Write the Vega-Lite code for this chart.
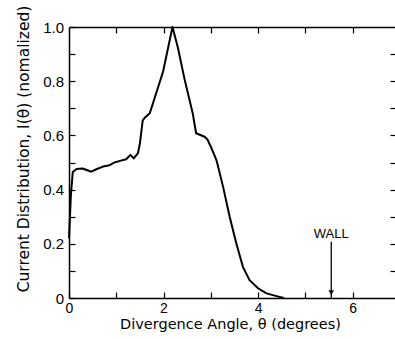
{
  "$schema": "https://vega.github.io/schema/vega-lite/v6.json",
  "autosize": "none",
  "width": 327,
  "height": 271,
  "padding": {"left": 69, "top": 27, "right": 0, "bottom": 41},
  "background": "white",
  "config": {
    "view": {"stroke": null},
    "axis": {
      "grid": false,
      "domainColor": "black",
      "domainWidth": 1.5,
      "tickColor": "black",
      "tickWidth": 1.2,
      "tickSize": -6,
      "labelColor": "black",
      "labelFont": "Liberation Sans",
      "labelFontSize": 15,
      "titleColor": "black",
      "titleFont": "DejaVu Sans",
      "titleFontWeight": "normal"
    }
  },
  "datasets": {
    "current": [
      {"theta": 0.0, "I": 0.22},
      {"theta": 0.04, "I": 0.38},
      {"theta": 0.08, "I": 0.465},
      {"theta": 0.16, "I": 0.476},
      {"theta": 0.29, "I": 0.478},
      {"theta": 0.47, "I": 0.466},
      {"theta": 0.58, "I": 0.475},
      {"theta": 0.72, "I": 0.485},
      {"theta": 0.86, "I": 0.49},
      {"theta": 0.96, "I": 0.5},
      {"theta": 1.1, "I": 0.507},
      {"theta": 1.21, "I": 0.512},
      {"theta": 1.3, "I": 0.528},
      {"theta": 1.37, "I": 0.515},
      {"theta": 1.46, "I": 0.535},
      {"theta": 1.5, "I": 0.57},
      {"theta": 1.56, "I": 0.655},
      {"theta": 1.62, "I": 0.668},
      {"theta": 1.71, "I": 0.682},
      {"theta": 1.99, "I": 0.835},
      {"theta": 2.19, "I": 1.0},
      {"theta": 2.3, "I": 0.927},
      {"theta": 2.45, "I": 0.804},
      {"theta": 2.62, "I": 0.68},
      {"theta": 2.69, "I": 0.608},
      {"theta": 2.87, "I": 0.595},
      {"theta": 2.93, "I": 0.585},
      {"theta": 3.01, "I": 0.555},
      {"theta": 3.12, "I": 0.509},
      {"theta": 3.26, "I": 0.411},
      {"theta": 3.4, "I": 0.3},
      {"theta": 3.54, "I": 0.202},
      {"theta": 3.68, "I": 0.115},
      {"theta": 3.82, "I": 0.066},
      {"theta": 4.0, "I": 0.036},
      {"theta": 4.18, "I": 0.017},
      {"theta": 4.39, "I": 0.007},
      {"theta": 4.55, "I": 0.0}
    ],
    "wall": [
      {"theta": 5.55, "top": 0.208, "bottom": 0.0, "tip": 0.02, "labelY": 0.22, "label": "WALL"}
    ]
  },
  "resolve": {"axis": {"x": "independent", "y": "independent"}},
  "layer": [
    {
      "data": {"name": "current"},
      "mark": {"type": "line", "color": "black", "strokeWidth": 2, "strokeJoin": "round"},
      "encoding": {
        "x": {
          "field": "theta", "type": "quantitative",
          "scale": {"domain": [0, 6.92], "nice": false, "zero": false},
          "axis": {
            "orient": "bottom",
            "values": [0, 1, 2, 3, 4, 5, 6],
            "labelExpr": "datum.value % 2 == 0 ? datum.label : ''",
            "labelFontSize": 14,
            "labelPadding": 9,
            "labelFlush": false,
            "title": "Divergence Angle, θ (degrees)",
            "titleFontSize": 14.5,
            "titleBaseline": "alphabetic",
            "titleAlign": "center",
            "titleX": 161,
            "titleY": 30.5
          }
        },
        "y": {
          "field": "I", "type": "quantitative",
          "scale": {"domain": [0, 1], "nice": false},
          "axis": {
            "orient": "left",
            "values": [0, 0.1, 0.2, 0.3, 0.4, 0.5, 0.6, 0.7, 0.8, 0.9, 1.0],
            "labelExpr": "round(datum.value * 10) % 2 == 0 ? (datum.value == 0 ? '0' : format(datum.value, '.1f')) : ''",
            "labelPadding": 11.5,
            "labelFlush": false,
            "title": "Current Distribution, I(θ) (nomalized)",
            "titleFontSize": 15.5,
            "titleAngle": -90,
            "titleBaseline": "alphabetic",
            "titleAlign": "center",
            "titleX": -40.5,
            "titleY": 121.5
          }
        }
      }
    },
    {
      "data": {"name": "wall"},
      "mark": {"type": "rule", "color": "black", "strokeWidth": 1.3},
      "encoding": {
        "x": {
          "field": "theta", "type": "quantitative",
          "axis": {"orient": "top", "values": [1, 2, 3, 4, 5, 6], "labels": false, "title": null}
        },
        "y": {
          "field": "top", "type": "quantitative",
          "axis": {"orient": "right", "values": [0.1, 0.2, 0.3, 0.4, 0.5, 0.6, 0.7, 0.8, 0.9], "labels": false, "title": null}
        },
        "y2": {"field": "bottom"}
      }
    },
    {
      "data": {"name": "wall"},
      "mark": {"type": "point", "shape": "triangle-down", "filled": true, "color": "black", "size": 30, "opacity": 1},
      "encoding": {
        "x": {"field": "theta", "type": "quantitative", "axis": null},
        "y": {"field": "tip", "type": "quantitative", "axis": null}
      }
    },
    {
      "data": {"name": "wall"},
      "mark": {"type": "text", "font": "Liberation Sans", "fontSize": 13, "color": "black", "align": "center", "baseline": "alphabetic"},
      "encoding": {
        "x": {"field": "theta", "type": "quantitative", "axis": null},
        "y": {"field": "labelY", "type": "quantitative", "axis": null},
        "text": {"field": "label"}
      }
    }
  ]
}
